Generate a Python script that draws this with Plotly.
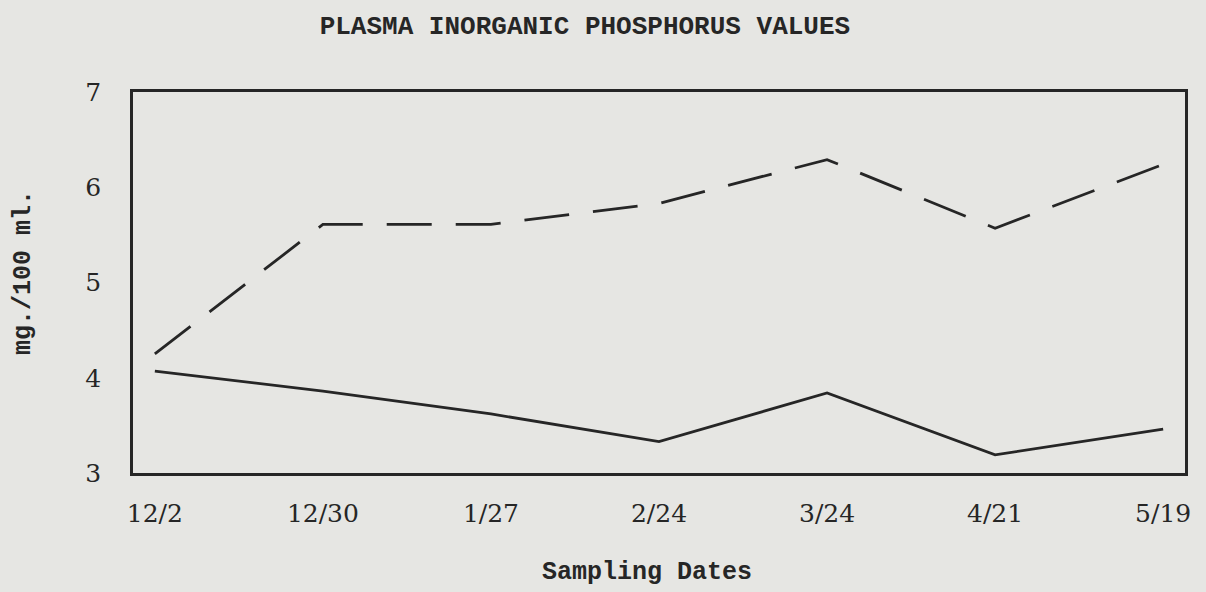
import plotly.graph_objects as go

dates = ["12/2", "12/30", "1/27", "2/24", "3/24", "4/21", "5/19"]
dashed_values = [4.25, 5.61, 5.61, 5.83, 6.29, 5.57, 6.24]
solid_values = [4.07, 3.86, 3.62, 3.33, 3.84, 3.19, 3.46]
y_ticks = [3, 4, 5, 6, 7]

BG = "#e6e6e3"
INK = "#262626"
MONO = "Liberation Mono"
SERIF = "DejaVu Serif"

x_idx = list(range(len(dates)))

fig = go.Figure()
fig.add_trace(go.Scatter(x=x_idx, y=dashed_values, mode="lines",
                         line=dict(color=INK, width=2.8, dash="45px,24px"),
                         showlegend=False, hoverinfo="skip"))
fig.add_trace(go.Scatter(x=x_idx, y=solid_values, mode="lines",
                         line=dict(color=INK, width=2.8),
                         showlegend=False, hoverinfo="skip"))

fig.update_layout(
    width=1206, height=592,
    paper_bgcolor=BG, plot_bgcolor=BG,
    margin=dict(l=133, r=21, t=92, b=119),
    title=dict(text="<b>PLASMA INORGANIC PHOSPHORUS VALUES</b>",
               x=0.485, xanchor="center", y=0.958, yanchor="middle",
               font=dict(family=MONO, size=26, color=INK)),
    font=dict(color=INK),
    annotations=[
        dict(text="<b>Sampling Dates</b>", xref="paper", yref="paper",
             x=0.4886, y=-0.262, xanchor="center", yanchor="middle",
             showarrow=False, font=dict(family=MONO, size=25, color=INK)),
        dict(text="<b>mg./100 ml.</b>", xref="paper", yref="paper",
             x=-0.1035, y=0.525, xanchor="center", yanchor="middle",
             textangle=-90, showarrow=False,
             font=dict(family=MONO, size=25, color=INK)),
    ],
)
fig.update_xaxes(
    range=[-0.13, 6.13], tickmode="array", tickvals=x_idx, ticktext=dates,
    showgrid=False, zeroline=False,
    showline=True, linecolor=INK, linewidth=2.5, mirror=True,
    ticks="outside", ticklen=16, tickcolor=BG,
    tickfont=dict(family=SERIF, size=25, color=INK),
)
fig.update_yaxes(
    range=[3, 7], tickmode="array", tickvals=y_ticks,
    showgrid=False, zeroline=False,
    showline=True, linecolor=INK, linewidth=2.5, mirror=True,
    ticks="outside", ticklen=24, tickcolor=BG,
    tickfont=dict(family=SERIF, size=25, color=INK),
)

fig.write_html("out.html", config={"displayModeBar": False},
               post_script="document.body.style.margin='0';")
